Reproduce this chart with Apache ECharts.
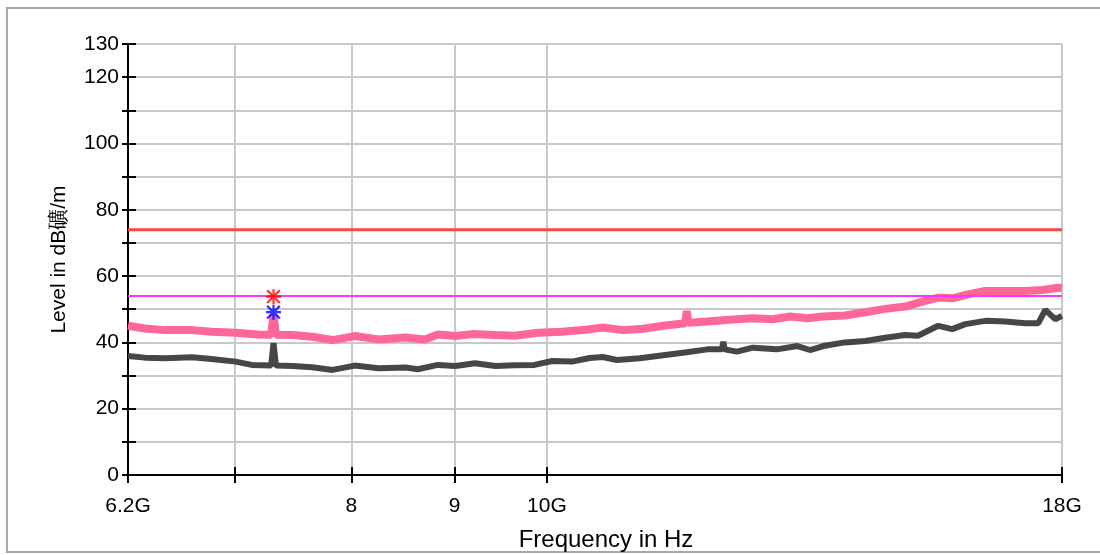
<!DOCTYPE html>
<html>
<head>
<meta charset="utf-8">
<script src="https://cdn.jsdelivr.net/npm/echarts@6/dist/echarts.min.js"></script>
<style>
html,body{margin:0;padding:0;background:#fff;}
#chart{width:1100px;height:555px;}
</style>
</head>
<body>
<div id="chart"></div>
<script>
// Frequencies in GHz
var freqPk = [6.20, 6.32, 6.47, 6.67, 6.82, 7.01, 7.19, 7.30, 7.32, 7.34, 7.48, 7.65, 7.83, 8.03, 8.25, 8.51, 8.70, 8.83, 9.01, 9.18, 9.43, 9.64, 9.90, 10.17, 10.48, 10.66, 10.91, 11.16, 11.42, 11.71, 11.73, 11.75, 12.01, 12.32, 12.65, 12.94, 13.20, 13.46, 13.71, 14.05, 14.38, 14.71, 15.05, 15.40, 15.63, 15.88, 16.17, 16.49, 16.87, 17.26, 17.60, 17.92, 18.00];
var peakLevel = [45.0, 44.2, 43.7, 43.7, 43.2, 42.9, 42.4, 42.3, 48.3, 42.3, 42.2, 41.7, 40.7, 41.9, 40.9, 41.5, 40.9, 42.4, 41.9, 42.5, 42.2, 42.0, 42.9, 43.2, 43.9, 44.5, 43.7, 44.1, 45.0, 45.8, 49.5, 45.9, 46.3, 46.8, 47.3, 47.0, 47.8, 47.3, 47.8, 48.1, 49.1, 50.1, 50.8, 52.5, 53.5, 53.3, 54.5, 55.5, 55.5, 55.5, 55.8, 56.5, 56.3];

var freqAv = [6.20, 6.32, 6.47, 6.67, 6.82, 7.01, 7.14, 7.30, 7.32, 7.34, 7.48, 7.65, 7.83, 8.03, 8.25, 8.51, 8.63, 8.83, 9.01, 9.21, 9.43, 9.64, 9.86, 10.06, 10.29, 10.50, 10.66, 10.83, 11.12, 11.42, 11.73, 12.01, 12.21, 12.23, 12.25, 12.42, 12.65, 13.00, 13.31, 13.50, 13.71, 14.05, 14.38, 14.71, 15.05, 15.27, 15.63, 15.88, 16.12, 16.49, 16.87, 17.26, 17.52, 17.66, 17.86, 18.00];
var avgLevel = [35.9, 35.4, 35.2, 35.5, 35.0, 34.2, 33.2, 33.0, 39.8, 33.0, 32.9, 32.5, 31.7, 33.0, 32.2, 32.4, 31.9, 33.2, 32.9, 33.7, 32.9, 33.1, 33.2, 34.4, 34.2, 35.3, 35.6, 34.7, 35.2, 36.1, 37.0, 37.9, 37.9, 40.2, 37.9, 37.2, 38.4, 37.9, 38.9, 37.7, 38.9, 40.0, 40.4, 41.4, 42.2, 42.0, 45.0, 44.0, 45.5, 46.5, 46.3, 45.8, 45.8, 49.8, 47.0, 48.0];

var limitFreq = [6.2, 18];
var limitQP = [74, 74];
var limitAV = [54, 54];

var markFreq = [7.32];
var markQP = [53.8];
var markAV = [49.1];

var xLabelValues = [6.2, 8, 9, 10, 18];
var xLabelText = ['6.2G', '8', '9', '10G', '18G'];
var xTickValues = [6.2, 7, 8, 9, 10, 18];

function pairs(xs, ys) { return xs.map(function (x, i) { return [x, ys[i]]; }); }

var star = 'path://M8.5 0L11.5 0L11.5 20L8.5 20Z M0 8.5L20 8.5L20 11.5L0 11.5Z M0.5 2.6L2.6 0.5L19.5 17.4L17.4 19.5Z M17.4 0.5L19.5 2.6L2.6 19.5L0.5 17.4Z';

var FONT = 'Liberation Sans, Arial, sans-serif';
var chart = echarts.init(document.getElementById('chart'));
chart.setOption({
  animation: false,
  backgroundColor: '#fff',
  graphic: [{
    type: 'rect', shape: { x: 7, y: 8, width: 1110, height: 544 },
    style: { fill: 'none', stroke: '#a8a8a8', lineWidth: 2 }, z: -1
  }],
  grid: { left: 128, right: 38, top: 44, bottom: 80, outerBoundsMode: 'none', containLabel: false },
  xAxis: [
    {
      type: 'log', logBase: 10, min: 6.2, max: 18, position: 'bottom',
      name: 'Frequency in Hz', nameLocation: 'middle', nameGap: 53,
      nameTextStyle: { fontFamily: FONT, fontSize: 24, color: '#000', padding: [0, 0, 0, 22] },
      axisLine: { show: true, lineStyle: { color: '#000', width: 2 } },
      axisTick: { show: true, length: 8, lineStyle: { color: '#000', width: 2 }, customValues: xTickValues },
      axisLabel: {
        fontFamily: FONT, fontSize: 21, color: '#000', margin: 21,
        customValues: xLabelValues,
        formatter: function (v) {
          for (var i = 0; i < xLabelValues.length; i++) {
            if (Math.abs(xLabelValues[i] - v) < 1e-6) return xLabelText[i];
          }
          return '';
        }
      },
      splitLine: { show: true, lineStyle: { color: '#c8c8c8', width: 2 } }
    },
    {
      type: 'log', logBase: 10, min: 6.2, max: 18, position: 'bottom',
      axisLine: { show: true, onZero: false, lineStyle: { color: '#000', width: 2 } },
      splitLine: { show: false },
      axisLabel: { show: false },
      axisTick: { show: true, inside: true, length: 8, lineStyle: { color: '#000', width: 2 }, customValues: xTickValues }
    }
  ],
  yAxis: [
    {
      type: 'value', min: 0, max: 130, interval: 10, position: 'left',
      name: 'Level in dB礦/m', nameLocation: 'middle', nameGap: 58, nameRotate: 90,
      nameTextStyle: { fontFamily: FONT, fontSize: 21, color: '#000' },
      axisLine: { show: true, lineStyle: { color: '#000', width: 2 } },
      axisTick: { show: true, length: 6, lineStyle: { color: '#000', width: 2 } },
      axisLabel: {
        fontFamily: FONT, fontSize: 21, color: '#000', margin: 9,
        formatter: function (v) { return (v % 20 === 0 || v === 130) ? String(v) : ''; }
      },
      splitLine: { show: true, lineStyle: { color: '#c8c8c8', width: 2 } }
    },
    {
      type: 'value', min: 0, max: 130, interval: 10, position: 'left',
      axisLine: { show: true, onZero: false, lineStyle: { color: '#000', width: 2 } },
      splitLine: { show: false },
      axisLabel: { show: false },
      axisTick: { show: true, inside: true, length: 8, lineStyle: { color: '#000', width: 2 } }
    }
  ],
  series: [
    {
      type: 'line', name: 'Peak', data: pairs(freqPk, peakLevel), showSymbol: false,
      lineStyle: { color: '#ff6699', width: 8 }, z: 2
    },
    {
      type: 'line', name: 'Average', data: pairs(freqAv, avgLevel), showSymbol: false,
      lineStyle: { color: '#464646', width: 6 }, z: 3
    },
    {
      type: 'line', name: 'Limit QP', data: pairs(limitFreq, limitQP), showSymbol: false,
      lineStyle: { color: '#ff4444', width: 3 }, z: 4
    },
    {
      type: 'line', name: 'Limit AV', data: pairs(limitFreq, limitAV), showSymbol: false,
      lineStyle: { color: '#ff33ff', width: 2 }, z: 4
    },
    {
      type: 'scatter', name: 'QP', data: pairs(markFreq, markQP), symbol: star, symbolSize: 15,
      itemStyle: { color: '#ff0000' }, z: 6
    },
    {
      type: 'scatter', name: 'AV', data: pairs(markFreq, markAV), symbol: star, symbolSize: 15,
      itemStyle: { color: '#0000ff' }, z: 6
    }
  ]
});
</script>
</body>
</html>
